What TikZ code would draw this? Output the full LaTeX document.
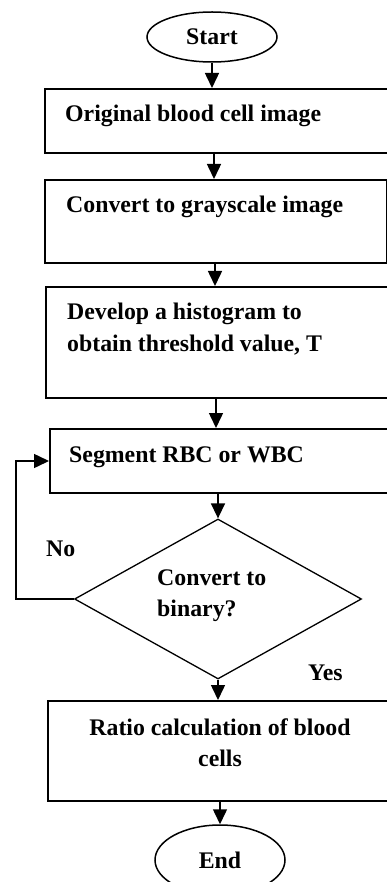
\documentclass[tikz,border=0pt]{standalone}
\usepackage{fontspec}
\setmainfont{Liberation Serif}
\usetikzlibrary{shapes.geometric,arrows.meta}
\begin{document}
\begin{tikzpicture}[x=1pt,y=-1pt,
  font=\fontsize{23.8}{31}\selectfont\bfseries,
  box/.style={draw,line width=1.8pt,rectangle,inner sep=0pt,anchor=north west},
  term/.style={draw,line width=1.5pt,ellipse,inner sep=0pt},
  lbl/.style={anchor=base west,inner sep=0pt},
  clbl/.style={anchor=base,inner sep=0pt},
  arr/.style={line width=1.5pt,-{Triangle[width=14pt,length=15pt]}}]
\useasboundingbox (0,0) rectangle (387,882);
% terminals
\node[term,minimum width=130pt,minimum height=50pt] (start) at (212,37) {};
\node[clbl] (starttxt) at (212,45) {Start};
\node[term,minimum width=130pt,minimum height=70pt] (end) at (220,860) {};
\node[clbl] (endtxt) at (220,868) {End};
% boxes
\node[box,minimum width=350pt,minimum height=64pt] (b1) at (44,88) {};
\node[lbl] (t1) at (65,122) {Original blood cell image};
\node[box,minimum width=341.5pt,minimum height=83pt] (b2) at (44,179) {};
\node[lbl] (t2) at (66,213) {Convert to grayscale image};
\node[box,minimum width=350pt,minimum height=111pt] (b3) at (45,286) {};
\node[lbl] (t3a) at (67,319) {Develop a histogram to};
\node[lbl] (t3b) at (67,351) {obtain threshold value, T};
\node[box,minimum width=350pt,minimum height=64pt] (b4) at (49,428) {};
\node[lbl] (t4) at (69,462) {Segment RBC or WBC};
\node[draw,line width=1.3pt,diamond,inner sep=0pt,minimum width=287pt,minimum height=160pt] (dia) at (218,599) {};
\node[lbl] (d1) at (157,585) {Convert to};
\node[lbl] (d2) at (157,616) {binary?};
\node[lbl] (no) at (46,556) {No};
\node[lbl] (yes) at (308,680) {Yes};
\node[box,minimum width=350pt,minimum height=100pt] (b5) at (47,700) {};
\node[clbl] (t5a) at (220,735) {Ratio calculation of blood};
\node[clbl] (t5b) at (220,766) {cells};
% connectors
\draw[arr] (start.south) -- (start.south |- b1.north);
\coordinate (c2) at (214,152);
\draw[arr] (c2) -- (c2 |- b2.north);
\coordinate (c3) at (215,262);
\draw[arr] (c3) -- (c3 |- b3.north);
\coordinate (c4) at (216,397);
\draw[arr] (c4) -- (c4 |- b4.north);
\draw[arr] (b4.south -| dia.north) -- (dia.north);
\draw[arr] (dia.south) -- (dia.south |- b5.north);
\draw[arr] (end.north |- b5.south) -- (end.north);
\coordinate (lp) at (16,461);
\draw[arr] (dia.west) -| (lp) -- (lp -| b4.west);
\end{tikzpicture}
\end{document}
